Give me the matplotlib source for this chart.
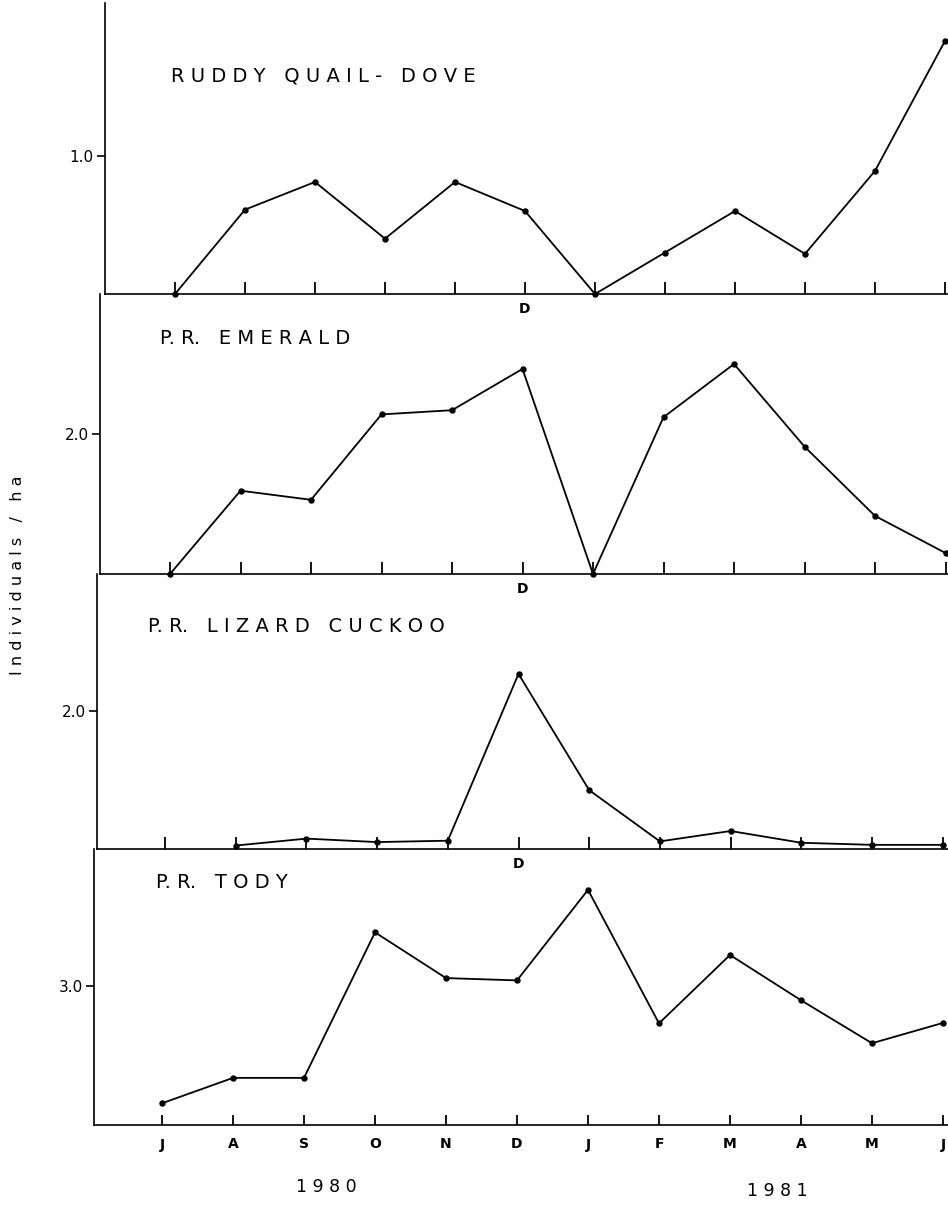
import numpy as np
import matplotlib.pyplot as plt

# monthly census, July 1980 - June 1981 (individuals / ha)
months = ["J", "A", "S", "O", "N", "D", "J", "F", "M", "A", "M", "J"]
quail_dove = [0.0, 0.61, 0.81, 0.40, 0.81, 0.60, 0.0, 0.30, 0.60, 0.29, 0.89, 1.83]
emerald = [0.0, 1.19, 1.06, 2.28, 2.34, 2.93, 0.0, 2.24, 3.00, 1.82, 0.83, 0.30]
lizard_cuckoo = [np.nan, 0.05, 0.15, 0.10, 0.12, 2.53, 0.85, 0.11, 0.26, 0.09, 0.06, 0.06]
tody = [0.47, 1.02, 1.02, 4.17, 3.18, 3.13, 5.09, 2.20, 3.68, 2.70, 1.77, 2.21]

species = ["RUDDY QUAIL- DOVE", "P.R. EMERALD", "P.R. LIZARD CUCKOO", "P.R. TODY"]
series = [quail_dove, emerald, lizard_cuckoo, tody]
ytick_vals = [1.0, 2.0, 2.0, 3.0]
years = ["1980", "1981"]

W, H = 948, 1207
fig = plt.figure(figsize=(W / 100, H / 100), dpi=100)

# panel geometry in pixels (scan is slightly skewed, so spines drift left)
spine_x = [105, 100, 97, 94]
base_y = [294, 574, 849, 1125]
top_y = [3, 294, 574, 849]
first_x = [175, 170, 165, 162]
step = [70.0, 70.5, 70.7, 71.0]
px_per_unit = [138.3, 70.0, 69.2, 46.2]
title_pos = [(171, 76), (160, 338), (148, 626), (156, 883)]


def spaced(s):
    # letter-spaced lettering, periods kept tight to the letter before
    return " ".join(s).replace(" .", ".")


idx = np.arange(len(months))
for i in range(4):
    left, bottom = spine_x[i], base_y[i]
    ax = fig.add_axes([left / W, 1 - bottom / H, (W - left) / W, (bottom - top_y[i]) / H])
    ax.patch.set_visible(False)
    ax.set_xlim(-(first_x[i] - left) / step[i], (W - first_x[i]) / step[i])
    ax.set_ylim(0, (bottom - top_y[i]) / px_per_unit[i])

    ax.plot(idx, np.array(series[i], dtype=float), color="black", lw=1.3,
            marker="o", ms=3.6, clip_on=False, zorder=3)

    for side in ["top", "right"]:
        ax.spines[side].set_visible(False)
    for side in ["left", "bottom"]:
        ax.spines[side].set_linewidth(1.2)

    ax.set_xticks(idx)
    if i == 3:
        ax.set_xticklabels(months, fontsize=10, fontweight="bold")
        ax.tick_params(axis="x", direction="in", length=7, width=1.3, pad=9)
    else:
        ax.set_xticklabels(["D" if k == 5 else "" for k in idx], fontsize=10, fontweight="bold")
        ax.tick_params(axis="x", direction="in", length=9, width=1.3, pad=6)

    ax.set_yticks([ytick_vals[i]])
    ax.set_yticklabels([f"{ytick_vals[i]:.1f}"], fontsize=11)
    ax.tick_params(axis="y", direction="out", length=6, width=1.2, pad=2)

    tx, ty = title_pos[i]
    fig.text(tx / W, 1 - ty / H, spaced(species[i]), fontsize=14,
             ha="left", va="center")

fig.text(18 / W, 1 - 575 / H, spaced("Individuals") + "   /   " + spaced("ha"),
         rotation=90, fontsize=11.5, ha="center", va="center")
fig.text(326 / W, 1 - 1187 / H, spaced(years[0]), fontsize=12.5, ha="center", va="center")
fig.text(777 / W, 1 - 1191 / H, spaced(years[1]), fontsize=12.5, ha="center", va="center")

fig.savefig("out.png", dpi=100)
